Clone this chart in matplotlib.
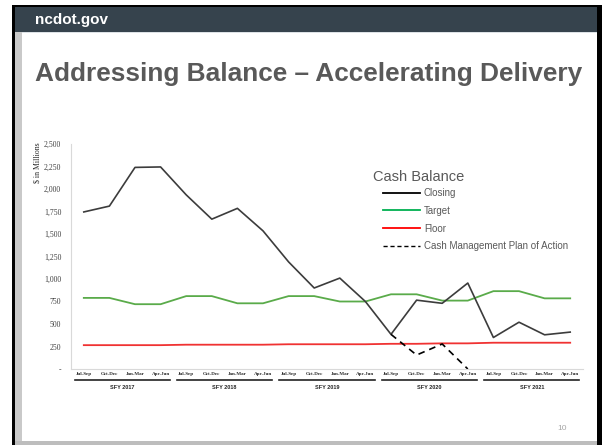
import numpy as np
import matplotlib.pyplot as plt
from matplotlib.patches import Rectangle
from matplotlib.lines import Line2D

# Data ($ in millions), quarters of SFY 2017 - SFY 2021
quarters = ["Jul-Sep", "Oct-Dec", "Jan-Mar", "Apr-Jun"] * 5
years = ["SFY 2017", "SFY 2018", "SFY 2019", "SFY 2020", "SFY 2021"]
closing = [1745, 1810, 2240, 2245, 1935, 1665, 1785, 1535, 1190, 900,
           1010, 750, 385, 765, 730, 955, 350, 520, 380, 410]
target = [790, 790, 720, 720, 810, 810, 730, 730, 810, 810,
          750, 750, 830, 830, 760, 760, 865, 865, 785, 785]
floor = [265, 265, 265, 265, 270, 270, 270, 270, 275, 275,
         275, 275, 280, 280, 285, 285, 292, 292, 292, 292]
plan = [np.nan] * 12 + [385, 155, 278, 0] + [np.nan] * 4
yticks = [0, 250, 500, 750, 1000, 1250, 1500, 1750, 2000, 2250, 2500]

W, H = 602, 445
fig = plt.figure(figsize=(W / 100, H / 100), dpi=100)

def box(x0, y0, x1, y1, color):
    # rectangle in pixel coords (y from top)
    fig.add_artist(Rectangle((x0 / W, 1 - y1 / H), (x1 - x0) / W, (y1 - y0) / H,
                             transform=fig.transFigure, color=color, lw=0, zorder=0))

# slide frame
box(12, 5, 602, 7, "black")
box(12, 5, 15, 445, "black")
box(597, 5, 602, 445, "black")
box(15, 7, 597, 32, "#36434d")
box(15, 32, 597, 33, "#dde2e6")
box(15, 32, 22, 445, "#c9c9c9")
box(15, 441, 597, 445, "#bdbdbd")

fig.text(35 / W, 1 - 20 / H, "ncdot.gov", color="white", fontsize=11,
         fontweight="bold", family="Liberation Sans", va="center", ha="left")
fig.text(35 / W, 1 - 74 / H, "Addressing Balance \u2013 Accelerating Delivery",
         color="#595959", fontsize=18.9, fontweight="bold",
         family="Liberation Sans", va="center", ha="left")
fig.text(562 / W, 1 - 428 / H, "10", color="#a6a6a6", fontsize=6,
         family="Liberation Sans", va="center", ha="center")

# chart
ax = fig.add_axes([71 / W, 1 - 369 / H, 512 / W, 225 / H])
ax.set_facecolor("none")
x = np.arange(len(quarters))
ax.plot(x, target, color="#5aab4a", lw=1.3)
ax.plot(x, floor, color="#f03232", lw=1.3)
ax.plot(x, closing, color="#3c3c3c", lw=1.2)
ax.plot(x, plan, color="black", lw=1.2, ls=(0, (4, 3)))

ax.set_xlim(-0.5, len(quarters) - 0.5)
ax.set_ylim(0, 2500)
ax.set_yticks(yticks)
ax.set_yticklabels(["-" if v == 0 else f"{v:,}" for v in yticks],
                   family="Liberation Serif", fontsize=5.6, color="#404040")
ax.set_xticks(x)
ax.set_xticklabels(quarters, family="Liberation Serif", fontsize=3.6,
                   fontweight="bold", color="#262626")
ax.tick_params(length=0)
ax.tick_params(axis="y", pad=7)
ax.tick_params(axis="x", pad=2.5)
for s in ["top", "right"]:
    ax.spines[s].set_visible(False)
for s in ["left", "bottom"]:
    ax.spines[s].set_color("#d9d9d9")

tr = ax.get_xaxis_transform()
for i, yr in enumerate(years):
    ax.plot([4 * i - 0.36, 4 * i + 3.36], [-0.05, -0.05], color="#222222",
            lw=1.2, transform=tr, clip_on=False)
    ax.text(4 * i + 1.5, -0.082, yr, transform=tr, ha="center", va="center",
            fontsize=4, fontweight="bold", family="Liberation Sans",
            color="#262626")

fig.text(37 / W, 1 - 163 / H, "$ in Millions", rotation=90, fontsize=5.6,
         family="Liberation Serif", color="#262626", va="center", ha="center")

# legend
fig.text(373 / W, 1 - 177 / H, "Cash Balance", fontsize=10.5,
         family="Liberation Sans", color="#595959", va="center", ha="left")
handles = [Line2D([], [], color="black", lw=1.3),
           Line2D([], [], color="#00b050", lw=1.3),
           Line2D([], [], color="red", lw=1.3),
           Line2D([], [], color="black", lw=1, ls=(0, (3, 2)))]
labels = ["Closing", "Target", "Floor", "Cash Management Plan of Action"]
fig.legend(handles, labels, loc="upper left",
           bbox_to_anchor=(383 / W, 1 - 188 / H), frameon=False,
           borderpad=0, borderaxespad=0, handlelength=3.8, handletextpad=0.4,
           labelspacing=0.8, prop={"family": "Liberation Sans", "size": 7},
           labelcolor="#595959")

fig.savefig("out.png", dpi=100)
